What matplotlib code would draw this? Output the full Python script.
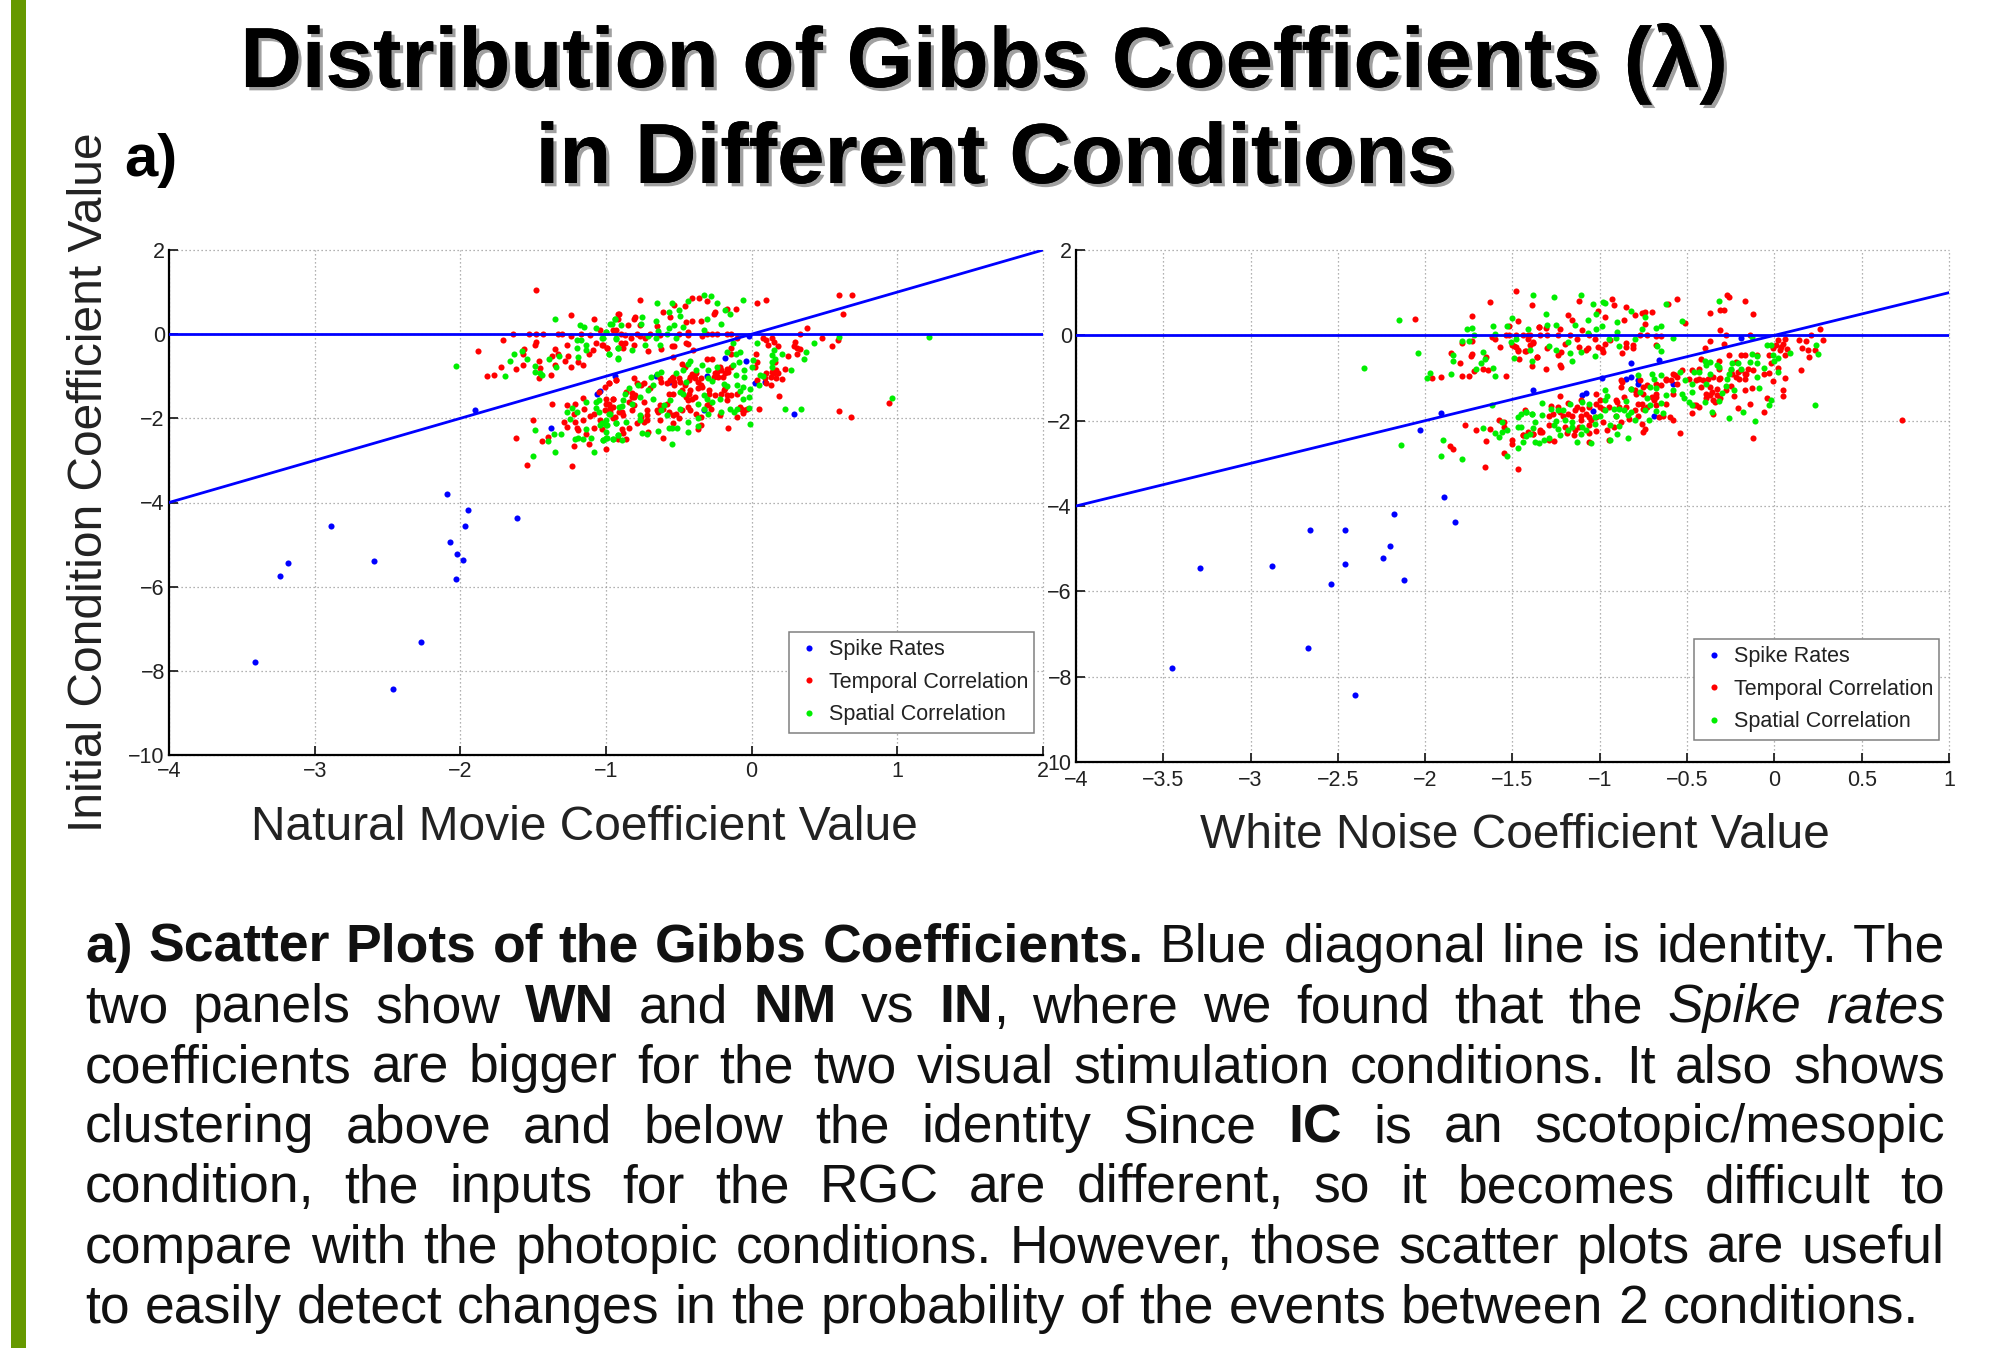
import numpy as np
import matplotlib
matplotlib.use('Agg')
import matplotlib.pyplot as plt
import matplotlib.patheffects as pe
from matplotlib.patches import Rectangle

plt.rcParams['font.family'] = ['Liberation Sans', 'DejaVu Sans']

# Natural movie panel: (natural movie coefficient, initial condition coefficient)
nm_spike = [(-2.09, -3.80), (-1.95, -4.18), (-1.61, -4.37), (-2.89, -4.56), (-1.97, -4.56), (-2.07, -4.93),
            (-2.02, -5.22), (-1.98, -5.36), (-2.59, -5.40), (-3.18, -5.44), (-3.24, -5.74), (-2.03, -5.82),
            (-2.27, -7.31), (-3.41, -7.78), (-2.46, -8.43), (-1.90, -1.81), (-1.38, -2.22), (-1.06, -1.41),
            (-1.04, -1.34), (-0.94, -1.00), (-0.02, -0.05), (-0.18, -0.57), (-0.04, -0.63), (0.02, -1.16),
            (0.09, -1.13), (0.29, -1.89), (-0.31, -1.00), (-0.56, -1.13), (-0.66, -1.00), (-0.33, -1.81)]

nm_temporal = [(-1.48, 1.05), (-1.24, 0.45), (-1.08, 0.36), (-0.92, 0.48), (-1.64, 0), (-1.53, 0), (-1.48, 0),
               (-1.43, 0), (-1.33, 0), (-1.30, 0), (-1.24, -0.05), (-1.17, 0), (-1.11, -0.02), (-1.04, 0.10),
               (-1.71, -0.13), (-1.48, -0.18), (-1.49, -0.25), (-1.27, -0.26), (-1.07, -0.22), (-1.03, -0.26),
               (-0.99, -0.34), (-1.88, -0.40), (-1.56, -0.36), (-1.57, -0.48), (-1.35, -0.36), (-1.33, -0.46),
               (-1.37, -0.51), (-1.26, -0.51), (-1.09, -0.38), (-1.12, -0.46), (-1.28, -0.63), (-1.46, -0.64),
               (-1.19, -0.67), (-1.16, -0.74), (-1.35, -0.74), (-1.24, -0.78), (-1.72, -0.78), (-1.62, -0.83),
               (-1.57, -0.73), (-1.45, -0.80), (-1.77, -0.96), (-1.82, -1.00), (-1.46, -1.05), (-1.38, -0.96),
               (-0.93, -1.09), (-0.98, -1.17), (-1.01, -1.25), (-1.05, -1.37), (-1.37, -1.66), (-1.27, -1.69),
               (-1.21, -1.66), (-1.16, -1.51), (-1.15, -1.79), (-1.00, -1.53), (-0.98, -1.65), (-0.95, -1.54),
               (-0.97, -1.77), (-1.22, -1.89), (-1.50, -2.03), (-1.29, -2.08), (-1.21, -2.08), (-1.16, -2.04),
               (-1.11, -1.94), (-1.08, -1.89), (-1.04, -2.04), (-0.95, -2.00), (-1.27, -2.20), (-1.20, -2.24),
               (-1.08, -2.22), (-1.03, -2.26), (-1.19, -2.28), (-1.14, -2.38), (-1.40, -2.44), (-1.62, -2.47),
               (-1.44, -2.53), (-1.12, -2.60), (-1.22, -2.66), (-1.00, -2.74), (-1.54, -3.10), (-1.23, -3.14),
               (-0.92, -2.48), (-0.77, 0.82), (-0.53, 0.70), (-0.46, 0.67), (-0.41, 0.86), (-0.36, 0.86),
               (-0.31, 0.78), (-0.61, 0.52), (-0.56, 0.40), (-0.91, 0.47), (-0.80, 0.40), (-0.81, 0.35),
               (-0.92, 0.35), (-0.85, 0.21), (-0.65, 0.20), (-0.77, 0.21), (-0.45, 0.28), (-0.41, 0.31),
               (-0.35, 0.31), (-0.25, 0.52), (-0.26, 0.47), (-0.17, 0.60), (-0.11, 0.60), (0.04, 0.73),
               (0.10, 0.82), (0.60, 0.92), (0.69, 0.94), (0.63, 0.49), (0.38, 0.15), (0.33, 0), (0.48, -0.10),
               (0.55, -0.28), (0.59, -0.14), (-0.44, 0.06), (-0.93, 0.11), (-0.95, 0.10), (-0.90, 0), (-0.87, -0.02),
               (-0.79, 0), (-0.77, -0.05), (-0.70, 0), (-0.63, -0.03), (-0.50, 0), (-0.44, -0.02), (-0.34, -0.05),
               (-0.31, 0), (-0.27, 0), (-0.24, 0), (-0.17, 0), (-0.14, 0), (-0.90, -0.22), (-0.87, -0.22),
               (-1.02, -0.26), (-0.99, -0.32), (-0.81, -0.26), (-0.83, -0.10), (-0.73, -0.08), (-0.71, -0.40),
               (-0.62, -0.36), (-0.55, -0.29), (-0.53, -0.28), (-0.45, -0.21), (-0.44, -0.24), (-0.40, -0.38),
               (-0.54, -0.54), (-0.88, -0.34), (-0.14, -0.34), (-0.10, -0.10), (0.08, -0.10), (0.10, -0.13),
               (0.14, -0.08), (0.15, -0.18), (0.18, -0.28), (0.11, -0.26), (0.29, -0.28), (0.31, -0.32),
               (0.33, -0.36), (0.30, -0.18), (0.25, -0.51), (0.31, -0.48), (0.03, -0.46), (-0.14, -0.46),
               (-0.31, -0.59), (-0.27, -0.59), (-0.48, -0.70), (-0.46, -0.78), (0.04, -0.67), (0.02, -0.78),
               (0.16, -0.66), (0.23, -0.82), (0.17, -0.86), (0.15, -0.93), (0.13, -1.01), (0.21, -1.07),
               (0.17, -1.05), (0.10, -1.17), (0.13, -1.21), (0.04, -1.09), (-0.17, -0.82), (-0.14, -0.78),
               (-0.22, -0.78), (-0.25, -0.93), (-0.23, -1.01), (-0.18, -0.93), (-0.38, -0.93), (-0.40, -0.97),
               (-0.42, -1.01), (-0.35, -1.05), (-0.35, -1.21), (-0.54, -1.01), (-0.50, -1.05), (-0.56, -1.09),
               (-0.63, -1.05), (-0.81, -1.05), (-0.93, -1.09), (-0.98, -1.17), (-0.79, -1.17), (-0.76, -1.21),
               (-0.58, -1.17), (-0.53, -1.21), (-0.42, -1.33), (-0.57, -1.41), (-0.54, -1.41), (-0.37, -1.29),
               (-0.29, -1.41), (-0.19, -1.33), (-0.21, -1.41), (-0.10, -1.41), (-0.14, -1.45), (-0.39, -1.49),
               (-0.44, -1.57), (-0.82, -1.39), (-0.81, -1.49), (-0.95, -1.53), (-0.84, -1.61), (-0.74, -1.61),
               (-0.63, -1.69), (-0.65, -1.81), (-0.61, -1.77), (-0.72, -1.81), (-0.44, -1.74), (-0.48, -1.81),
               (-0.42, -1.81), (-0.29, -1.65), (-0.17, -1.57), (-0.08, -1.73), (-0.05, -1.81), (0.05, -1.79),
               (0.19, -1.47), (-0.95, -1.73), (-0.97, -1.85), (-0.89, -1.85), (-0.82, -1.81), (-0.72, -1.92),
               (-0.63, -2.04), (-0.54, -1.92), (-0.50, -2.00), (-0.38, -1.90), (-0.35, -1.96), (-0.22, -1.92),
               (-0.10, -1.98), (-0.35, -2.16), (-0.37, -2.26), (-0.16, -2.23), (-0.54, -2.11), (-0.74, -2.08),
               (-0.84, -2.24), (-0.89, -2.26), (-0.88, -2.36), (-0.71, -2.32), (-0.61, -2.46), (-0.86, -2.48),
               (0.60, -1.83), (0.68, -1.98), (0.94, -1.64),
               (-0.41, -0.95), (-0.39, -1.05), (-0.43, -1.09), (-0.37, -1.13), (-0.34, -1.25), (-0.24, -0.90),
               (-0.21, -0.86), (-0.16, -0.90), (-0.20, -1.01), (-0.26, -1.01), (0.10, -0.93), (0.14, -0.90),
               (0.18, -0.93), (0.09, -1.05), (-0.55, -1.05), (-0.49, -1.13), (-0.53, -1.13), (-0.62, -1.13),
               (-0.82, -1.49), (-0.80, -1.45), (-0.81, -1.69), (-0.91, -1.85), (-0.88, -1.92), (-0.94, -1.96),
               (-0.76, -1.96), (-0.72, -2.04), (-0.79, -2.12), (-0.62, -1.73), (-0.58, -1.65), (-0.64, -1.85),
               (-0.43, -1.41), (-0.41, -1.53), (-0.45, -1.49), (-0.18, -1.29), (-0.17, -1.45), (-0.07, -1.77),
               (-0.03, -1.77), (-0.06, -1.87), (-0.48, -1.33), (-0.46, -1.21), (-0.70, -1.29), (-0.74, -1.17),
               (-0.86, -1.37), (-1.00, -1.65), (-1.01, -1.81), (-0.97, -1.73), (-0.52, -1.89), (-0.57, -1.85),
               (-0.29, -1.33), (-0.25, -1.45), (-0.31, -1.69), (-0.28, -1.77)]

nm_spatial = [(-2.03, -0.76), (-1.35, 0.36), (-1.18, 0.21), (-1.15, 0.17), (-1.07, 0.15), (-0.97, 0.23),
              (-0.94, 0.37), (-1.00, 0.06), (-1.20, -0.14), (-1.17, -0.13), (-1.14, -0.26), (-1.02, -0.09),
              (-0.93, -0.10), (-0.92, -0.34), (-1.14, -0.38), (-1.20, -0.34), (-1.58, -0.40), (-1.63, -0.47),
              (-0.98, -0.48), (-1.32, -0.51), (-1.19, -0.55), (-1.39, -0.60), (-1.54, -0.60), (-1.66, -0.63),
              (-0.92, -0.58), (-1.49, -0.76), (-1.34, -0.78), (-1.49, -0.89), (-1.45, -0.92), (-1.44, -0.97),
              (-1.69, -1.00), (-1.05, -1.57), (-1.14, -1.60), (-1.07, -1.61), (-1.23, -1.75), (-1.27, -1.84),
              (-1.20, -1.86), (-1.07, -1.75), (-1.05, -1.85), (-0.98, -1.90), (-1.00, -2.04), (-1.25, -2.02),
              (-1.04, -2.16), (-1.14, -2.26), (-1.00, -2.16), (-0.93, -2.12), (-1.49, -2.28), (-1.31, -2.37),
              (-1.36, -2.38), (-1.10, -2.46), (-1.00, -2.32), (-1.21, -2.48), (-1.19, -2.46), (-1.16, -2.50),
              (-1.02, -2.52), (-1.40, -2.55), (-0.95, -2.50), (-0.92, -2.40), (-0.99, -2.46), (-1.35, -2.81),
              (-1.08, -2.81), (-1.50, -2.90), (-0.91, -1.73), (-0.65, 0.75), (-0.55, 0.75), (-0.44, 0.79),
              (-0.33, 0.94), (-0.28, 0.90), (-0.24, 0.75), (-0.06, 0.82), (-0.50, 0.57), (-0.57, 0.52),
              (-0.18, 0.58), (-0.15, 0.49), (-0.94, 0.37), (-0.75, 0.40), (-0.49, 0.43), (-0.66, 0.32),
              (-0.31, 0.35), (-0.21, 0.25), (-0.76, 0.23), (-0.96, 0.24), (-0.90, 0.21), (-0.53, 0.21),
              (-0.47, 0.17), (-0.57, 0.15), (-0.64, 0.07), (-0.33, 0.10), (-1.00, 0.04), (-0.71, -0.05),
              (-0.66, -0.08), (-0.58, 0), (-0.52, -0.08), (-1.03, -0.10), (-0.93, -0.12), (-0.73, -0.26),
              (-0.63, -0.25), (-0.82, -0.38), (-0.92, -0.34), (-0.98, -0.48), (-0.92, -0.57), (0.60, -0.06),
              (1.22, -0.06), (0.43, -0.21), (0.37, -0.43), (0.36, -0.58), (0.21, -0.48), (0.04, -0.22),
              (-0.13, -0.22), (0.15, -0.38), (0.14, -0.50), (0.16, -0.60), (0.14, -0.66), (0.14, -0.78),
              (0.27, -0.86), (0.01, -0.62), (-0.17, -0.43), (-0.11, -0.48), (-0.08, -0.43), (-0.09, -0.66),
              (-0.13, -0.74), (0, -0.78), (-0.05, -0.86), (-0.11, -0.97), (-0.05, -1.01), (0.06, -0.97),
              (0.08, -0.99), (0.05, -1.21), (-0.19, -1.19), (-0.17, -1.24), (-0.10, -1.21), (-0.06, -1.25),
              (-0.08, -1.35), (-0.01, -1.31), (-0.02, -1.49), (-0.06, -1.55), (-0.02, -1.75), (-0.15, -1.77),
              (-0.10, -1.77), (-0.12, -1.86), (-0.21, -1.86), (-0.01, -2.13), (0.23, -1.79), (0.34, -1.79),
              (0.96, -1.51), (-0.42, -0.63), (-0.44, -0.70), (-0.34, -0.74), (-0.38, -0.86), (-0.30, -0.84),
              (-0.24, -0.78), (-0.52, -0.92), (-0.47, -0.86), (-0.62, -0.90), (-0.65, -0.95), (-0.69, -1.01),
              (-0.30, -1.05), (-0.27, -1.11), (-0.45, -1.13), (-0.68, -1.21), (-0.71, -1.33), (-0.78, -1.21),
              (-0.84, -1.27), (-0.87, -1.43), (-0.77, -1.49), (-0.68, -1.53), (-0.88, -1.57), (-0.89, -1.71),
              (-0.82, -1.65), (-0.49, -1.37), (-0.47, -1.41), (-0.33, -1.45), (-0.31, -1.53), (-0.27, -1.61),
              (-0.22, -1.53), (-0.56, -1.57), (-0.60, -1.69), (-0.62, -1.81), (-0.49, -1.77), (-0.37, -1.65),
              (-0.33, -1.77), (-0.30, -1.90), (-0.37, -2.00), (-0.44, -2.08), (-0.58, -1.92), (-0.77, -1.92),
              (-0.77, -2.04), (-0.86, -2.08), (-0.93, -2.11), (-0.97, -1.89), (-1.03, -2.12), (-0.99, -2.16),
              (-0.57, -2.22), (-0.55, -2.22), (-0.51, -2.22), (-0.64, -2.30), (-0.75, -2.34), (-0.72, -2.38),
              (-0.44, -2.32), (-0.37, -2.19), (-0.92, -2.39), (-1.00, -2.46), (-0.95, -2.48), (-1.02, -2.52),
              (-0.89, -2.52), (-0.55, -2.62)]

# White noise panel: (white noise coefficient, initial condition coefficient)
wn_spike = [(-1.89, -3.80), (-2.18, -4.18), (-1.83, -4.38), (-2.66, -4.57), (-2.46, -4.57), (-2.20, -4.94),
            (-2.24, -5.23), (-2.88, -5.40), (-2.46, -5.36), (-3.29, -5.45), (-2.12, -5.74), (-2.54, -5.83),
            (-2.67, -7.32), (-3.45, -7.79), (-2.40, -8.44), (-1.91, -1.82), (-2.03, -2.23), (-1.38, -1.28),
            (-0.19, -0.06), (-0.82, -0.64), (-0.66, -0.58), (-0.99, -1.00), (-1.10, -1.41), (-1.08, -1.35),
            (-0.85, -1.02), (-0.82, -0.98), (-0.78, -1.05), (-0.78, -1.15), (-0.58, -1.15), (-1.04, -1.78),
            (-0.69, -1.89)]

wn_temporal = [(-1.48, 1.05), (-1.63, 0.77), (-1.39, 0.70), (-2.06, 0.38), (-1.73, 0.45), (-1.47, 0.34),
               (-1.52, 0.21), (-1.35, 0.20), (-1.54, 0), (-1.52, 0), (-1.48, 0), (-1.44, 0), (-1.40, 0),
               (-1.62, -0.05), (-1.60, -0.09), (-1.79, -0.17), (-1.73, -0.13), (-1.57, -0.27), (-1.50, -0.23),
               (-1.48, -0.27), (-1.47, -0.37), (-1.43, -0.37), (-1.38, -0.17), (-1.41, -0.08), (-1.40, -0.23),
               (-1.85, -0.41), (-1.73, -0.43), (-1.74, -0.48), (-1.80, -0.64), (-1.65, -0.51), (-1.46, -0.55),
               (-1.36, -0.51), (-1.39, -0.73), (-1.72, -0.84), (-1.67, -0.80), (-1.64, -0.81), (-1.79, -0.96),
               (-1.75, -0.96), (-1.91, -0.98), (-1.96, -1.00), (-1.54, -0.96), (-1.43, -1.76), (-1.58, -1.98),
               (-1.55, -2.03), (-1.77, -2.09), (-1.55, -2.16), (-1.63, -2.20), (-1.71, -2.23), (-1.44, -2.34),
               (-1.41, -2.27), (-1.38, -2.32), (-1.65, -2.48), (-1.50, -2.46), (-1.50, -2.54), (-1.86, -2.60),
               (-1.84, -2.67), (-1.55, -2.75), (-1.66, -3.09), (-1.47, -3.14), (-1.34, -2.27), (-1.12, 0.81),
               (-0.93, 0.85), (-0.92, 0.70), (-0.56, 0.85), (-0.61, 0.73), (-0.27, 0.94), (-0.26, 0.91),
               (-0.17, 0.81), (-0.31, 0.60), (-0.29, 0.60), (-0.37, 0.52), (-0.12, 0.49), (-0.51, 0.30),
               (-0.85, 0.66), (-1.01, 0.58), (-0.76, 0.52), (-0.74, 0.55), (-0.70, 0.54), (-0.80, 0.47),
               (-0.74, 0.27), (-1.18, 0.47), (-1.16, 0.35), (-0.97, 0.43), (-0.86, 0.37), (-1.23, 0.15),
               (-1.35, 0.20), (-1.31, 0.18), (-1.10, 0.12), (-0.31, 0.13), (0.26, 0.15), (0.21, 0), (-0.28, 0),
               (-0.14, 0), (-1.41, 0), (-1.34, 0), (-1.30, 0), (-1.24, 0), (-1.17, 0), (-1.06, 0), (-0.77, 0),
               (-0.73, 0), (-0.68, -0.02), (-0.65, -0.02), (-1.13, -0.08), (-1.03, -0.09), (-0.37, -0.13),
               (0.14, -0.11), (0.18, -0.13), (0.28, -0.11), (-0.29, -0.20), (0.06, -0.08), (0.02, -0.12),
               (-0.94, -0.12), (-0.97, -0.21), (-0.85, -0.18), (-0.81, -0.23), (-0.81, -0.29), (-0.68, -0.23),
               (-1.01, -0.27), (-0.99, -0.31), (-0.98, -0.38), (-1.12, -0.27), (-1.07, -0.29), (-1.08, -0.35),
               (-1.20, -0.21), (-1.30, -0.29), (-1.22, -0.39), (-1.24, -0.47), (-1.38, -0.16), (-1.49, -0.25),
               (-1.47, -0.35), (-1.42, -0.37), (-1.36, -0.51), (-1.31, -0.79), (-1.23, -0.69), (-1.22, -0.75),
               (-0.87, -0.41), (-0.85, -0.27), (-0.40, -0.30), (0.16, -0.29), (0.19, -0.34), (0.23, -0.34),
               (0.20, -0.51), (0.15, -0.81), (0.01, -0.23), (0.04, -0.27), (0.07, -0.31), (-0.03, -0.45),
               (0.06, -0.47), (0.02, -0.76), (0.06, -1.01), (-0.01, -1.07), (0.05, -1.27), (0.05, -1.43),
               (-0.04, -1.47), (-0.06, -1.80), (-0.14, -1.60), (-0.12, -2.41), (0.73, -1.98), (-0.21, -1.71),
               (-0.26, -0.47), (-0.19, -0.47), (-0.17, -0.47), (-0.42, -0.55), (-0.32, -0.59), (-0.22, -0.63),
               (-0.10, -0.45), (-0.02, -0.65), (-0.53, -0.82), (-0.47, -0.82), (-0.43, -0.78), (-0.32, -0.78),
               (-0.25, -0.82), (-0.19, -0.82), (-0.12, -0.82), (-0.06, -0.90), (-0.03, -0.88), (-0.16, -0.90),
               (-0.22, -0.98), (-0.17, -1.02), (-0.31, -0.99), (-0.35, -0.98), (-0.43, -1.02), (-0.49, -1.02),
               (-0.57, -0.94), (-0.62, -1.05), (-0.68, -1.15), (-0.56, -1.13), (-0.25, -1.19), (-0.17, -1.27),
               (-0.13, -1.24), (-0.33, -1.25), (-0.37, -1.21), (-0.28, -1.29), (-0.37, -1.41), (-0.39, -1.48),
               (-0.23, -1.42), (-0.31, -1.48), (-0.34, -1.56), (-0.43, -1.68), (-0.46, -1.64), (-0.35, -1.84),
               (-0.47, -1.81), (-0.88, -1.05), (-0.88, -1.21), (-0.77, -1.05), (-0.75, -1.21), (-0.80, -1.29),
               (-0.68, -1.37), (-0.58, -1.37), (-0.69, -1.52), (-0.78, -1.60), (-0.91, -1.52), (-1.02, -1.38),
               (-1.00, -1.52), (-1.11, -1.52), (-1.18, -1.58), (-1.23, -1.43), (-1.28, -1.66), (-1.24, -1.68),
               (-1.13, -1.68), (-1.06, -1.68), (-0.95, -1.68), (-0.85, -1.68), (-0.75, -1.72), (-0.62, -1.60),
               (-1.29, -1.88), (-1.27, -1.84), (-1.18, -1.84), (-1.11, -1.88), (-1.02, -1.91), (-0.91, -1.88),
               (-0.78, -1.90), (-0.64, -1.88), (-0.60, -1.91), (-0.58, -1.99), (-0.98, -2.03), (-1.06, -2.11),
               (-1.11, -1.99), (-1.29, -2.09), (-1.20, -2.15), (-1.14, -2.23), (-1.02, -2.25), (-0.96, -2.23),
               (-0.76, -2.07), (-0.74, -2.19), (-0.75, -2.27), (-0.54, -2.30), (-1.33, -2.27), (-1.38, -2.32),
               (-1.44, -2.34), (-1.15, -2.34), (-1.29, -2.46), (-1.26, -2.48), (-1.06, -2.50), (-0.95, -2.46),
               (-0.21, -0.86), (-0.17, -0.90), (-0.20, -1.02), (-0.24, -0.90), (-0.15, -0.78), (-0.62, -1.02),
               (-0.59, -1.05), (-0.56, -0.98), (-0.58, -0.90), (-0.65, -1.17), (-0.82, -1.25), (-0.87, -1.09),
               (-0.73, -1.17), (-0.75, -1.37), (-0.79, -1.37), (-0.70, -1.45), (-0.68, -1.45), (-0.73, -1.68),
               (-0.76, -1.60), (-0.80, -1.76), (-0.68, -1.64), (-0.66, -1.91), (-0.90, -1.56), (-0.89, -1.68),
               (-0.86, -1.45), (-1.10, -1.72), (-1.08, -1.84), (-1.14, -1.76), (-1.16, -1.88), (-1.06, -1.91),
               (-1.12, -2.15), (-1.05, -1.99), (-1.00, -1.68), (-1.02, -1.60), (-0.98, -1.72), (-0.39, -1.37),
               (-0.36, -1.33), (-0.33, -1.41), (-0.35, -1.52), (-0.42, -1.21), (-0.45, -1.05), (-0.41, -1.05),
               (-0.38, -1.02), (-0.32, -1.02), (-0.45, -1.64), (-1.21, -1.88), (-1.23, -1.80), (-1.34, -2.23),
               (-1.19, -2.30), (-1.06, -2.30), (-0.92, -2.15), (-0.83, -1.95), (-0.88, -2.03), (-0.01, -0.29),
               (0.03, -0.35), (0.05, -0.20)]

wn_spatial = [(-1.38, 0.94), (-2.15, 0.36), (-1.50, 0.40), (-1.61, 0.23), (-1.53, 0.21), (-1.76, 0.15),
              (-1.73, 0.17), (-1.41, 0.15), (-1.72, 0), (-1.60, 0.04), (-1.79, -0.13), (-1.75, -0.13),
              (-1.51, -0.16), (-1.48, -0.08), (-1.40, -0.34), (-2.04, -0.41), (-1.67, -0.39), (-1.84, -0.47),
              (-1.84, -0.60), (-1.66, -0.55), (-1.49, -0.52), (-1.68, -0.65), (-1.39, -0.60), (-2.35, -0.77),
              (-1.71, -0.80), (-1.61, -0.77), (-1.97, -0.88), (-1.85, -0.90), (-1.99, -1.00), (-1.60, -0.96),
              (-1.62, -1.64), (-1.47, -1.91), (-1.45, -1.85), (-1.42, -1.80), (-1.39, -1.84), (-1.56, -2.03),
              (-1.37, -2.03), (-1.47, -2.15), (-1.45, -2.15), (-1.67, -2.18), (-1.53, -2.23), (-1.38, -2.17),
              (-1.60, -2.28), (-1.56, -2.27), (-1.58, -2.38), (-1.42, -2.37), (-1.40, -2.32), (-1.90, -2.46),
              (-1.44, -2.49), (-1.37, -2.50), (-1.35, -2.52), (-2.14, -2.56), (-1.47, -2.63), (-1.91, -2.82),
              (-1.53, -2.82), (-1.79, -2.91), (-1.26, 0.89), (-1.11, 0.94), (-1.04, 0.74), (-0.98, 0.79),
              (-0.97, 0.75), (-0.62, 0.74), (-0.32, 0.81), (-0.82, 0.58), (-0.74, 0.43), (-1.02, 0.49),
              (-1.31, 0.51), (-1.07, 0.36), (-0.90, 0.32), (-0.53, 0.34), (-1.30, 0.25), (-1.25, 0.25),
              (-1.14, 0.25), (-0.99, 0.21), (-1.02, 0.15), (-0.76, 0.15), (-0.68, 0.17), (-0.65, 0.21),
              (-1.07, 0.06), (-0.90, 0.08), (-1.18, -0.16), (-0.95, -0.08), (-0.91, -0.06), (-0.80, -0.08),
              (-0.58, -0.06), (-0.13, -0.05), (-1.29, -0.26), (-0.89, -0.25), (-0.67, -0.25), (-0.65, -0.36),
              (-1.17, -0.42), (-1.11, -0.38), (-1.25, -0.35), (-1.03, -0.49), (-1.16, -0.59), (-0.04, -0.22),
              (-0.02, -0.23), (0.24, -0.22), (0.25, -0.43), (0.09, -0.41), (-0.01, -0.47), (0.02, -0.52),
              (0, -0.60), (-0.13, -0.43), (-0.10, -0.49), (-0.10, -0.66), (-0.14, -0.62), (-0.06, -0.77),
              (0.02, -0.86), (-0.10, -0.98), (0.23, -1.64), (-0.11, -2.01), (-0.26, -1.93), (-0.18, -1.80),
              (-0.36, -1.80), (-0.03, -1.64), (-0.02, -1.52), (-0.09, -1.23), (-0.24, -0.66), (-0.21, -0.66),
              (-0.25, -0.78), (-0.19, -0.78), (-0.26, -0.90), (-0.27, -1.02), (-0.23, -1.27), (-0.28, -1.19),
              (-0.30, -1.34), (-0.32, -1.54), (-0.40, -1.56), (-0.40, -0.60), (-0.37, -0.63), (-0.39, -0.70),
              (-0.33, -0.70), (-0.32, -0.74), (-0.37, -0.90), (-0.43, -0.86), (-0.46, -0.86), (-0.54, -0.86),
              (-0.51, -1.05), (-0.47, -1.13), (-0.39, -1.15), (-0.47, -1.33), (-0.53, -1.37), (-0.52, -1.48),
              (-0.49, -1.56), (-0.47, -1.64), (-0.58, -1.29), (-0.62, -1.41), (-0.65, -0.92), (-0.70, -0.90),
              (-0.69, -1.03), (-0.78, -0.92), (-0.82, -1.26), (-0.71, -1.21), (-0.68, -1.23), (-0.77, -1.33),
              (-0.73, -1.48), (-0.65, -1.58), (-0.71, -1.64), (-0.74, -1.76), (-0.68, -1.77), (-0.64, -1.81),
              (-0.72, -1.99), (-0.80, -1.99), (-0.84, -1.86), (-0.82, -1.80), (-0.86, -1.76), (-0.89, -1.72),
              (-0.85, -1.54), (-0.92, -1.72), (-0.91, -1.88), (-0.89, -2.13), (-0.90, -2.32), (-0.84, -2.40),
              (-0.94, -2.46), (-0.94, -2.09), (-0.97, -1.52), (-0.96, -1.42), (-0.97, -1.27), (-0.97, -1.76),
              (-1.00, -1.88), (-1.03, -1.91), (-1.03, -2.07), (-1.06, -1.60), (-1.10, -1.56), (-1.17, -1.60),
              (-1.33, -1.58), (-1.21, -1.76), (-1.24, -1.76), (-1.28, -1.72), (-1.33, -1.86), (-1.39, -1.84),
              (-1.42, -1.80), (-1.25, -2.01), (-1.26, -2.11), (-1.20, -1.99), (-1.16, -2.03), (-1.24, -2.19),
              (-1.23, -2.34), (-1.18, -2.21), (-1.16, -2.16), (-1.10, -2.15), (-1.08, -2.23), (-1.11, -2.32),
              (-1.13, -2.50), (-1.05, -2.52), (-1.29, -2.40), (-1.32, -2.45)]

nm_xticks = [-4, -3, -2, -1, 0, 1, 2]
wn_xticks = [-4, -3.5, -3, -2.5, -2, -1.5, -1, -0.5, 0, 0.5, 1]
yticks = [-10, -8, -6, -4, -2, 0, 2]
series_names = ['Spike Rates', 'Temporal Correlation', 'Spatial Correlation']

title_lines = ['Distribution of Gibbs Coefficients (λ)', 'in Different Conditions']

# each line is a list of (text, weight, style) runs
paragraph = [
    [('a) Scatter Plots of the Gibbs Coefficients.', 'bold', 'normal'), ('Blue diagonal line is identity. The', 'normal', 'normal')],
    [('two panels show', 'normal', 'normal'), ('WN', 'bold', 'normal'), ('and', 'normal', 'normal'), ('NM', 'bold', 'normal'),
     ('vs', 'normal', 'normal'), ('IN', 'bold', 'normal'), (', where we found that the', 'normal', 'normal'), ('Spike rates', 'normal', 'italic')],
    [('coefficients are bigger for the two visual stimulation conditions. It also shows', 'normal', 'normal')],
    [('clustering above and below the identity Since', 'normal', 'normal'), ('IC', 'bold', 'normal'), ('is an scotopic/mesopic', 'normal', 'normal')],
    [('condition, the inputs for the RGC are different, so it becomes difficult to', 'normal', 'normal')],
    [('compare with the photopic conditions. However, those scatter plots are useful', 'normal', 'normal')],
    [('to easily detect changes in the probability of the events between 2 conditions.', 'normal', 'normal')],
]

W, H = 1990, 1348
fig = plt.figure(figsize=(W / 100, H / 100), dpi=100)


def fx(px):
    return px / W


def fy(py):
    return 1 - py / H


def draw_panel(box, spike, temporal, spatial, xlim, xticks, xlabels, ylabels, legend_box, xpad):
    left, right, top, bottom = box
    ax = fig.add_axes([fx(left), fy(bottom), (right - left) / W, (bottom - top) / H])
    for pts, col, name in zip([spike, temporal, spatial], ['#0000ff', '#ff0000', '#00ee00'], series_names):
        arr = np.array(pts)
        ax.plot(arr[:, 0], arr[:, 1], linestyle='none', marker='o', markersize=4.4,
                markeredgewidth=0, color=col, label=name, zorder=3)
    ax.plot(xlim, xlim, color='#0000ff', linewidth=2.0, zorder=4)
    ax.plot(xlim, [0, 0], color='#0000ff', linewidth=2.0, zorder=4)
    ax.set_xlim(xlim)
    ax.set_ylim(-10, 2)
    ax.set_xticks(xticks)
    ax.set_xticklabels(xlabels)
    ax.set_yticks(yticks)
    ax.set_yticklabels(ylabels)
    ax.spines['top'].set_visible(False)
    ax.spines['right'].set_visible(False)
    ax.spines['left'].set_linewidth(1.6)
    ax.spines['bottom'].set_linewidth(1.6)
    ax.tick_params(direction='in', length=6.5, width=1.3, labelsize=15.5, pad=3, colors='#222222')
    ax.tick_params(axis='x', pad=xpad)
    ax.grid(True, linestyle=(0, (1, 2.2)), color='#999999', linewidth=0.9)
    for g in ax.get_xgridlines() + ax.get_ygridlines():
        g.set_clip_on(False)
    ax.set_axisbelow(True)

    lx0, lx1, ly0, ly1 = legend_box
    leg = ax.legend(loc='lower left', bbox_to_anchor=((lx0 - left) / (right - left), (bottom - ly1) / (bottom - top),
                                                     (lx1 - lx0) / (right - left), (ly1 - ly0) / (bottom - top)),
                    mode='expand', borderaxespad=0, fancybox=False, framealpha=1, edgecolor='#808080',
                    fontsize=15.5, labelspacing=0.54, handletextpad=0.29, borderpad=0.35, handlelength=1.2,
                    labelcolor='#222222')
    leg.get_frame().set_linewidth(1.1)
    return ax


def tick_text(v):
    s = f'{v:g}'
    return s.replace('-', '\u2212')


draw_panel((169, 1043, 250, 755), nm_spike, nm_temporal, nm_spatial, [-4, 2], nm_xticks,
           [tick_text(v) for v in nm_xticks], [tick_text(v) for v in yticks], (789, 1034, 630, 733), 4)
draw_panel((1076, 1949, 250, 762), wn_spike, wn_temporal, wn_spatial, [-4, 1], wn_xticks,
           [tick_text(v) for v in wn_xticks], ['10' if v == -10 else tick_text(v) for v in yticks], (1694, 1939, 637, 740), 6)

# green bar on the left of the slide
fig.add_artist(Rectangle((fx(11), 0), 15 / W, 1, transform=fig.transFigure, color='#669900', linewidth=0))

shadow = [pe.withSimplePatchShadow(offset=(2.4, -2.4), shadow_rgbFace='#888888', alpha=0.8), pe.Normal()]
fig.text(fx(984), fy(64), title_lines[0], ha='center', va='center', fontsize=61.4, fontweight='bold', path_effects=shadow)
fig.text(fx(995), fy(161), title_lines[1], ha='center', va='center', fontsize=61.4, fontweight='bold', path_effects=shadow)

fig.text(fx(151), fy(160), 'a)', ha='center', va='center', fontsize=43, fontweight='bold')
fig.text(fx(90), fy(482), 'Initial Condition Coefficient Value', rotation=90, ha='center', va='center', fontsize=34.5, color='#222222')
fig.text(fx(584), fy(828), 'Natural Movie Coefficient Value', ha='center', va='center', fontsize=34.5, color='#222222')
fig.text(fx(1515), fy(836), 'White Noise Coefficient Value', ha='center', va='center', fontsize=34.5, color='#222222')

# justified paragraph, word by word
PARA_SIZE = 38.5
para_left, para_right = 85, 1945
baseline0, line_step = 962, 60.1
renderer = fig.canvas.get_renderer()
for i, line in enumerate(paragraph):
    words = []
    for text, weight, style in line:
        pieces = text.split(' ')
        for j, w in enumerate(pieces):
            # a run starting with a comma sticks to the previous word
            glue = j == 0 and w.startswith(',')
            words.append((w, weight, style, glue))
    y = fy(baseline0 + i * line_step)
    artists = []
    total = 0
    gaps = 0
    for w, weight, style, glue in words:
        t = fig.text(0, y, w, fontsize=PARA_SIZE, fontweight=weight, fontstyle=style, va='baseline', color='#111111')
        artists.append(t)
        total += t.get_window_extent(renderer).width
        if not glue:
            gaps += 1
    gaps -= 1
    natural = 0.278 * PARA_SIZE * 100 / 72
    gap = natural if i == len(paragraph) - 1 else (para_right - para_left - total) / gaps
    x = para_left
    for n, (t, (w, weight, style, glue)) in enumerate(zip(artists, words)):
        if n > 0 and not glue:
            x += gap
        t.set_x(x / W)
        x += t.get_window_extent(renderer).width

fig.savefig('out.png', dpi=100)
